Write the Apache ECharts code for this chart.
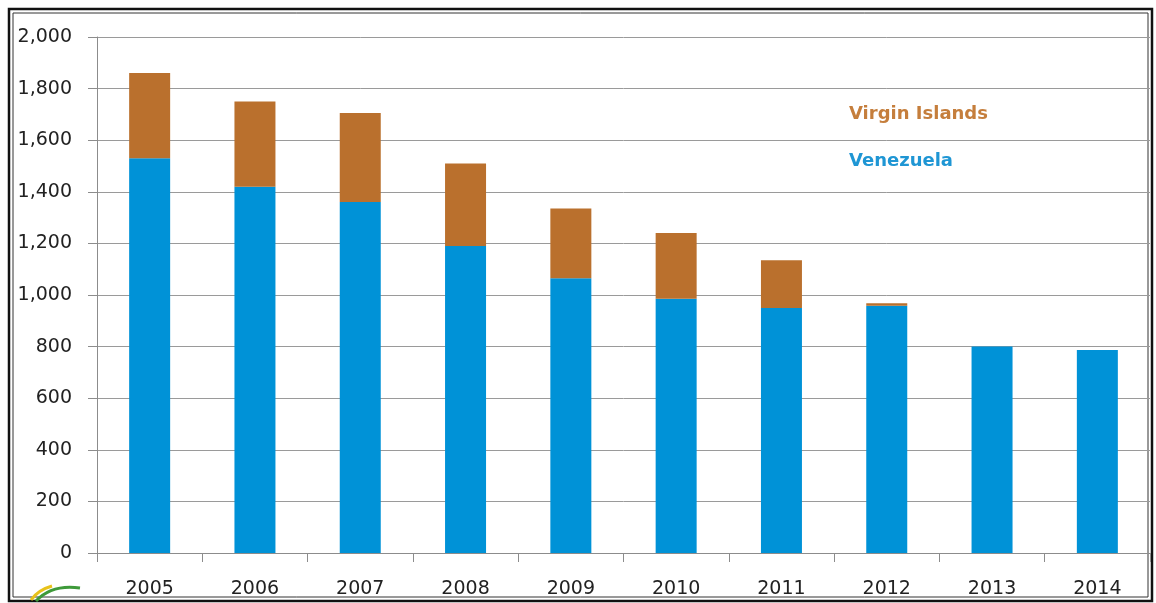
<!DOCTYPE html>
<html>
<head>
<meta charset="utf-8">
<script src="https://cdn.jsdelivr.net/npm/echarts@6/dist/echarts.min.js"></script>
<style>
html,body{margin:0;padding:0;background:#fff;}
#chart{width:1156px;height:603px;}
</style>
</head>
<body>
<div id="chart"></div>
<script>
const years = ['2005','2006','2007','2008','2009','2010','2011','2012','2013','2014'];
const venezuela = [1530, 1420, 1360, 1190, 1065, 985, 950, 958, 800, 787];
const virginIslands = [330, 330, 345, 320, 270, 255, 185, 10, 0, 0];
const seriesNames = ['Venezuela', 'Virgin Islands'];
const colors = ['#0092D7', '#BA702D'];
const textColors = ['#1F96D4', '#C57E3C'];

const chart = echarts.init(document.getElementById('chart'), null, {renderer:'canvas'});
const fmt = v => v.toLocaleString('en-US');
chart.setOption({
  animation: false,
  backgroundColor: '#ffffff',
  grid: {left: 97, right: 6, top: 37, bottom: 50},
  xAxis: {
    type: 'category',
    data: years,
    boundaryGap: true,
    axisLine: {lineStyle: {color: '#8c8c8c', width: 1}},
    axisTick: {show: true, length: 9, alignWithLabel: false, lineStyle: {color: '#8c8c8c'}},
    axisLabel: {color: '#222', fontFamily: 'DejaVu Sans', fontSize: 19, margin: 27}
  },
  yAxis: {
    type: 'value',
    min: 0, max: 2000, interval: 200,
    axisLine: {show: true, lineStyle: {color: '#8c8c8c', width: 1}},
    axisTick: {show: true, length: 9, lineStyle: {color: '#8c8c8c'}},
    splitLine: {show: true, lineStyle: {color: '#9a9a9a', width: 1}},
    axisLabel: {color: '#222', fontFamily: 'DejaVu Sans', fontSize: 19, margin: 25, formatter: fmt}
  },
  series: [
    {name: seriesNames[0], type: 'bar', stack: 'total', data: venezuela, barWidth: 41,
     itemStyle: {color: colors[0]}},
    {name: seriesNames[1], type: 'bar', stack: 'total', data: virginIslands, barWidth: 41,
     itemStyle: {color: colors[1]}}
  ],
  graphic: [
    {type: 'text', left: 849, top: 105, style: {text: seriesNames[1], fill: textColors[1], font: 'bold 18px "DejaVu Sans"'}},
    {type: 'text', left: 849, top: 152, style: {text: seriesNames[0], fill: textColors[0], font: 'bold 18px "DejaVu Sans"'}},
    {type: 'rect', shape: {x: 9, y: 9, width: 1143, height: 592}, style: {fill: 'none', stroke: '#111', lineWidth: 2.5}, silent: true},
    {type: 'rect', shape: {x: 13, y: 13, width: 1135, height: 584}, style: {fill: 'none', stroke: '#333', lineWidth: 1}, silent: true},
    {type: 'bezierCurve', shape: {x1: 31, y1: 600, x2: 52, y2: 586, cpx1: 38, cpy1: 590}, style: {stroke: '#E8C21A', lineWidth: 3, fill: 'none'}, silent: true},
    {type: 'bezierCurve', shape: {x1: 36, y1: 601, x2: 80, y2: 588, cpx1: 52, cpy1: 584}, style: {stroke: '#3E9A3A', lineWidth: 3, fill: 'none'}, silent: true}
  ]
});
</script>
</body>
</html>
